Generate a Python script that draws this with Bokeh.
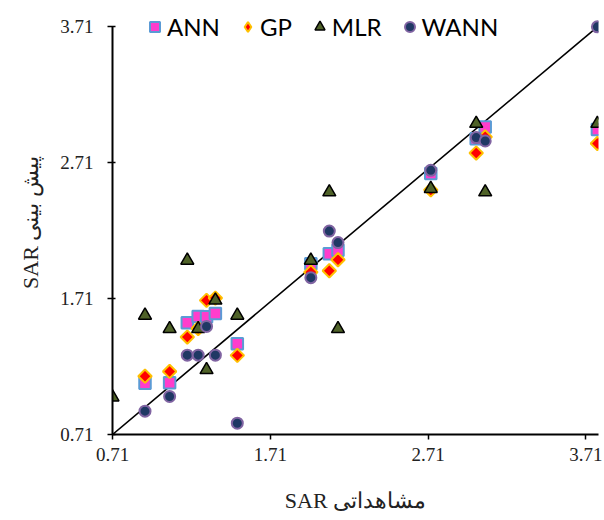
import math
from bokeh.plotting import figure
from bokeh.models import Range1d, FixedTicker, Legend, LegendItem
from bokeh.embed import file_html
from bokeh.resources import INLINE

nan = float("nan")

# Observed SAR (x) and predicted SAR (y) for each model
observed = [0.71, 0.916, 1.072, 1.184, 1.253, 1.306, 1.362, 1.501, 1.967, 2.084, 2.139, 2.727, 3.015, 3.072, 3.783]
ann = [nan, 1.088, 1.091, 1.532, 1.579, 1.577, 1.601, 1.378, 1.967, 2.040, 2.065, 2.630, 2.887, 2.973, 2.954]
gp = [nan, 1.139, 1.174, 1.427, 1.490, 1.697, 1.714, 1.292, 1.905, 1.915, 1.996, 2.510, 2.781, 2.900, 2.851]
mlr = [0.985, 1.586, 1.488, 1.991, 1.488, 1.186, 1.697, 1.586, 1.991, 2.494, 1.488, 2.519, 2.998, 2.494, 2.998]
wann = [nan, 0.882, 0.990, 1.294, 1.294, 1.505, 1.294, 0.793, 1.864, 2.207, 2.122, 2.654, 2.895, 2.870, 3.710]

# reference line
line_x = [0.71, 3.783]
line_y = [0.71, 3.71]

tick_values = [0.71, 1.71, 2.71, 3.71]
x_title = "SAR مشاهداتی"
y_title = "SAR پیش بینی"

p = figure(
    width=604, height=514,
    frame_width=486, frame_height=424,
    min_border_left=112, min_border_right=6, min_border_top=10, min_border_bottom=80,
    x_range=Range1d(0.71, 3.79), y_range=Range1d(0.71, 3.83),
    output_backend="svg", toolbar_location=None,
)
p.outline_line_color = None
p.xgrid.visible = False
p.ygrid.visible = False

p.line(line_x, line_y, line_color="black", line_width=1.6)

r_ann = p.scatter(observed, ann, marker="square", size=11.5, fill_color="#FF3DCC",
                  line_color="#5B9BD5", line_width=2)
r_gp = p.scatter(observed, gp, marker="square", angle=math.pi / 4, size=9.5, fill_color="#FF0000",
                 line_color="#FFC000", line_width=2)
r_mlr = p.scatter(observed, mlr, marker="triangle", size=13, fill_color="#4F6228",
                  line_color="black", line_width=1.5)
r_wann = p.scatter(observed, wann, marker="circle", size=11, fill_color="#1F3864",
                   line_color="#8064A2", line_width=2)
# legend-only glyph for GP (legend glyphs ignore rotation); its single point is NaN, so not drawn
r_gp_key = p.scatter([nan], [nan], marker="diamond", size=10, fill_color="#FF0000",
                     line_color="#FFC000", line_width=2)

for ax, title in ((p.xaxis[0], x_title), (p.yaxis[0], y_title)):
    ax.ticker = FixedTicker(ticks=tick_values)
    ax.bounds = (0.71, 3.71) if ax is p.yaxis[0] else (0.71, 3.79)
    ax.axis_line_width = 2
    ax.axis_line_color = "black"
    ax.major_tick_line_color = "black"
    ax.major_tick_line_width = 1.5
    ax.major_tick_out = 5
    ax.major_tick_in = 0
    ax.minor_tick_line_color = None
    ax.major_label_text_font = "Liberation Serif"
    ax.major_label_text_font_size = "19px"
    ax.major_label_text_color = "#222222"
    ax.axis_label = title
    ax.axis_label_text_font = "Liberation Serif"
    ax.axis_label_text_font_size = "22px"
    ax.axis_label_text_font_style = "normal"
    ax.axis_label_text_color = "#222222"

p.yaxis[0].major_tick_in = 3
p.xaxis[0].major_label_standoff = 8
p.xaxis[0].axis_label_standoff = 24
p.yaxis[0].major_label_standoff = 14
p.yaxis[0].axis_label_standoff = 14

legend = Legend(
    items=[
        LegendItem(label="ANN", renderers=[r_ann]),
        LegendItem(label="GP", renderers=[r_gp_key]),
        LegendItem(label="MLR", renderers=[r_mlr]),
        LegendItem(label="WANN", renderers=[r_wann]),
    ],
    orientation="horizontal",
    location=(30, 393),
    label_text_font="Lato",
    label_text_font_size="24px",
    label_text_color="black",
    glyph_width=25, glyph_height=25,
    label_standoff=-2,
    spacing=15,
    padding=0, margin=0,
    border_line_color=None,
    background_fill_alpha=0,
)
p.add_layout(legend, "center")

open("out.html", "w").write(file_html(p, INLINE))
